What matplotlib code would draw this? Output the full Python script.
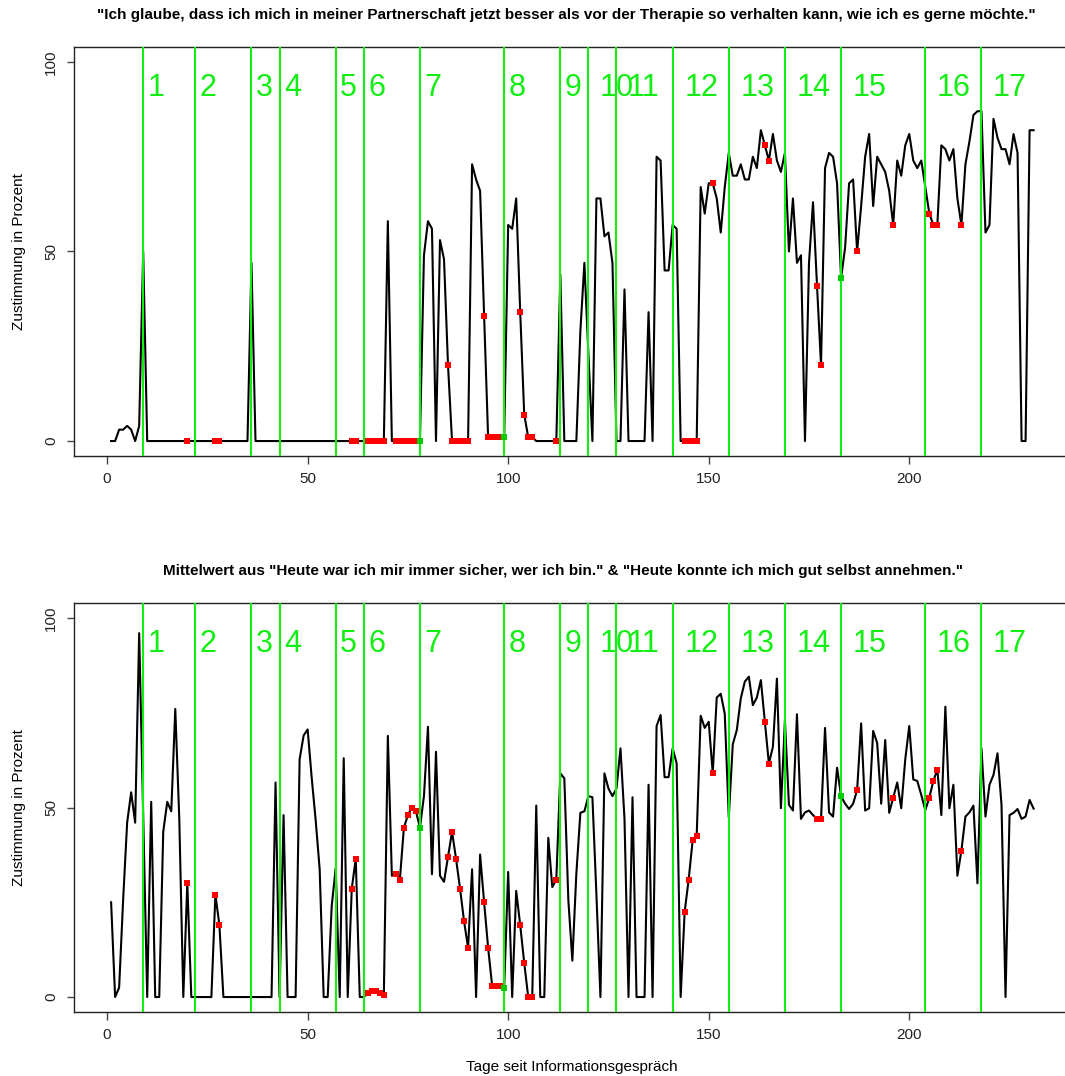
import matplotlib
matplotlib.use('Agg')
import matplotlib.pyplot as plt

plt.rcParams['font.family'] = ['Liberation Sans', 'DejaVu Sans']

# Tage 1..231
tage = list(range(1, 232))

# "Ich glaube, dass ich mich in meiner Partnerschaft ..." (Zustimmung in %)
partnerschaft = [
    0, 0, 3, 3, 4, 3, 0, 4, 50, 0,
    0, 0, 0, 0, 0, 0, 0, 0, 0, 0,
    0, 0, 0, 0, 0, 0, 0, 0, 0, 0,
    0, 0, 0, 0, 0, 47, 0, 0, 0, 0,
    0, 0, 0, 0, 0, 0, 0, 0, 0, 0,
    0, 0, 0, 0, 0, 0, 0, 0, 0, 0,
    0, 0, 0, 0, 0, 0, 0, 0, 0, 58,
    0, 0, 0, 0, 0, 0, 0, 0, 49, 58,
    56, 0, 53, 48, 20, 0, 0, 0, 0, 0,
    73, 69, 66, 33, 1, 1, 1, 1, 1, 57,
    56, 64, 34, 7, 1, 1, 0, 0, 0, 0,
    0, 0, 44, 0, 0, 0, 0, 29, 47, 23,
    0, 64, 64, 54, 55, 47, 0, 0, 40, 0,
    0, 0, 0, 0, 34, 0, 75, 74, 45, 45,
    57, 56, 0, 0, 0, 0, 0, 67, 60, 68,
    68, 64, 55, 67, 76, 70, 70, 73, 69, 69,
    75, 72, 82, 78, 74, 81, 74, 71, 76, 50,
    64, 47, 49, 0, 47, 63, 41, 20, 72, 76,
    75, 68, 43, 51, 68, 69, 50, 62, 75, 81,
    62, 75, 73, 71, 66, 57, 74, 70, 78, 81,
    74, 72, 74, 67, 60, 57, 57, 78, 77, 74,
    77, 64, 57, 73, 79, 86, 87, 87, 55, 57,
    85, 80, 77, 77, 73, 81, 76, 0, 0, 82,
    82]

# Mittelwert aus den beiden Selbst-Items
selbst = [
    25, 0, 2.5, 25.6, 46, 54, 46, 96, 48, 0,
    51.5, 0, 0, 43.6, 51.5, 49, 76, 47, 0, 30,
    0, 0, 0, 0, 0, 0, 27, 19, 0, 0,
    0, 0, 0, 0, 0, 0, 0, 0, 0, 0,
    0, 56.6, 0, 48, 0, 0, 0, 62.7, 69, 70.6,
    58, 46.7, 33.7, 0, 0, 24, 34, 0, 63, 0,
    28.6, 36.5, 0, 0, 1, 1.6, 1.6, 1.1, 0.5, 68.9,
    32, 32.5, 31, 44.7, 48, 50, 49, 44.7, 53, 71.3,
    32.4, 64.7, 32, 30.4, 37, 43.6, 36.5, 28.6, 20, 13,
    33.7, 0, 37.6, 25, 13, 3, 3, 3, 2.5, 33,
    0, 28, 19, 9, 0, 0, 50.5, 0, 0, 42,
    29, 31, 59, 57.7, 25.6, 9.6, 32.6, 48.6, 49, 53,
    52.7, 27, 0, 59, 55, 53, 55, 65.6, 47, 0,
    52.7, 0, 0, 0, 56, 0, 71.5, 74.4, 58, 58,
    65.6, 61.7, 0, 22.5, 31, 41.4, 42.6, 74.2, 71, 72.6,
    59, 79, 80, 74.7, 47.4, 66.7, 70.4, 78.8, 83.2, 84.5,
    77, 79, 83.6, 72.6, 61.6, 66, 84, 49.8, 73, 50.7,
    49.2, 74.6, 47, 48.7, 49.2, 48, 47, 47, 71, 48.7,
    47.6, 60.5, 53, 51, 49.6, 51, 54.6, 72.2, 49.2, 49.8,
    70.2, 67, 51, 67.8, 48.6, 52.6, 56.6, 49.8, 62.7, 71.5,
    57.4, 57, 53.3, 49.3, 52.6, 57, 60, 48, 76.6, 49.8,
    56, 32, 38.6, 47.6, 48.7, 50.5, 30, 65.6, 47.6, 56,
    58.6, 64.3, 50.7, 0, 48, 48.6, 49.6, 47, 47.6, 52,
    49.7]

# Tage mit rot bzw. gruen markierten Werten
rote_tage = [20, 27, 28, 61, 62, 65, 66, 67, 68, 69, 72, 73, 74, 75, 76, 77,
             85, 86, 87, 88, 89, 90, 94, 95, 96, 97, 98, 103, 104, 105, 106,
             112, 144, 145, 146, 147, 151, 164, 165, 177, 178, 187, 196,
             205, 206, 207, 213]
gruene_tage = [78, 99, 183]

# Sitzungen (gruene Linien, nummeriert 1..17)
sitzungen = [9, 22, 36, 43, 57, 64, 78, 99, 113, 120, 127, 141, 155, 169,
             183, 204, 218]

titel_oben = '"Ich glaube, dass ich mich in meiner Partnerschaft jetzt besser als vor der Therapie so verhalten kann, wie ich es gerne möchte."'
titel_unten = 'Mittelwert aus "Heute war ich mir immer sicher, wer ich bin." & "Heute konnte ich mich gut selbst annehmen."'

W, H = 1065, 1076
fig = plt.figure(figsize=(W / 100, H / 100), dpi=100)

links = 74.2 / W
breite = 996.3 / W
ax1 = fig.add_axes([links, 1 - 456.2 / H, breite, 409.4 / H])
ax2 = fig.add_axes([links, 1 - 1012.2 / H, breite, 409.4 / H])

gruen = '#11ee11'


def zeichne(ax, werte):
    ax.plot(tage, werte, color='black', lw=1.5, zorder=2)
    for i, s in enumerate(sitzungen):
        ax.axvline(s, color=gruen, lw=1.5, zorder=3)
        nr = str(i + 1)
        # zweistellige Nummern sitzen etwas weiter rechts
        dx = 1.1 if len(nr) == 1 else 2.9
        ax.text(s + dx, 91, nr, color=gruen, fontsize=22,
                ha='left', va='baseline', zorder=3)
    ry = [werte[t - 1] for t in rote_tage]
    ax.plot(rote_tage, ry, 's', color='#ff0000', ms=4.3, mew=0, zorder=4)
    gy = [werte[t - 1] for t in gruene_tage]
    ax.plot(gruene_tage, gy, 's', color='#00cc00', ms=4.3, mew=0, zorder=4)

    ax.set_xlim(-8.2, 240.2)
    ax.set_ylim(-4, 104)
    ax.set_xticks([0, 50, 100, 150, 200])
    ax.set_yticks([0, 50, 100])
    ax.set_yticklabels(['0', '50', '100'], rotation=90, va='center')
    ax.tick_params(length=5.4, width=1, color='#444', labelsize=11,
                   labelcolor='#222', pad=6)
    for sp in ax.spines.values():
        sp.set_color('#222')
        sp.set_linewidth(1)


zeichne(ax1, partnerschaft)
zeichne(ax2, selbst)

fig.text(566 / W, 1 - 15 / H, titel_oben, ha='center', va='center',
         fontsize=11, fontweight='bold')
fig.text(563 / W, 1 - 571 / H, titel_unten, ha='center', va='center',
         fontsize=11, fontweight='bold')
fig.text(19 / W, 1 - 251.5 / H, 'Zustimmung in Prozent', rotation=90,
         ha='center', va='center', fontsize=11)
fig.text(19 / W, 1 - 807.5 / H, 'Zustimmung in Prozent', rotation=90,
         ha='center', va='center', fontsize=11)
fig.text(572 / W, 1 - 1067 / H, 'Tage seit Informationsgespräch',
         ha='center', va='center', fontsize=11)

fig.savefig('out.png', dpi=100)
